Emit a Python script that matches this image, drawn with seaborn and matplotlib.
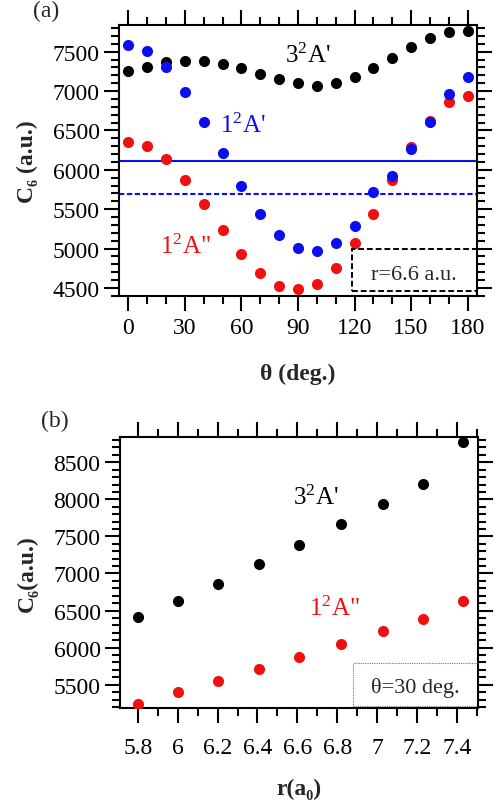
import matplotlib
matplotlib.use("Agg")
import matplotlib.pyplot as plt
from matplotlib.ticker import MultipleLocator, FormatStrFormatter
from matplotlib.patches import Rectangle
import pandas as pd
import seaborn as sns

# ---- (a) C6 versus angle at r = 6.6 a.u. ----
theta_deg = [0, 10, 20, 30, 40, 50, 60, 70, 80, 90,
             100, 110, 120, 130, 140, 150, 160, 170, 180]
c6_3A1 = [7251, 7310, 7373, 7378, 7378, 7344, 7289, 7217, 7153, 7099,
          7069, 7103, 7183, 7289, 7420, 7556, 7670, 7754, 7766]
c6_1A1 = [7589, 7505, 7302, 6985, 6612, 6211, 5795, 5444, 5174, 5009,
          4975, 5068, 5288, 5724, 5926, 6265, 6604, 6967, 7175]
c6_1A2 = [6350, 6307, 6138, 5876, 5567, 5237, 4937, 4688, 4530, 4489,
          4552, 4759, 5068, 5444, 5868, 6287, 6624, 6858, 6942]
level_solid = 6117
level_dashed = 5694

# ---- (b) C6 versus r at theta = 30 deg ----
r_a0 = [5.80, 6.00, 6.20, 6.41, 6.61, 6.82, 7.03, 7.23, 7.43]
c6_r_3A1 = [6412, 6635, 6864, 7124, 7385, 7664, 7934, 8208, 8779]
c6_r_1A2 = [5240, 5397, 5550, 5712, 5878, 6045, 6220, 6382, 6632]

theta_ticks = [0, 30, 60, 90, 120, 150, 180]
r_ticks = [5.8, 6.0, 6.2, 6.4, 6.6, 6.8, 7.0, 7.2, 7.4]

sns.set_style("ticks", {"axes.edgecolor": "black",
                        "xtick.color": "black", "ytick.color": "black"})
plt.rcParams["font.family"] = ["Liberation Serif", "DejaVu Serif"]
plt.rcParams["axes.linewidth"] = 1.5
plt.rcParams["mathtext.default"] = "regular"

BLACK, BLUE, RED = "#000000", "#0a0ff0", "#f01010"
MS = 64
TICK_FS = 17
LAB_FS = 17

LBL_3A1 = "3$^{2}$A'"
LBL_1A1 = "1$^{2}$A'"
LBL_1A2 = '1$^{2}$A"'

df_a = pd.DataFrame({"theta": theta_deg, "s3A1": c6_3A1,
                     "s1A1": c6_1A1, "s1A2": c6_1A2})
df_b = pd.DataFrame({"r": r_a0, "s3A1": c6_r_3A1, "s1A2": c6_r_1A2})

fig = plt.figure(figsize=(4.99, 8.04), dpi=100)
ax1 = fig.add_axes([0.2385, 0.6306, 0.7174, 0.3371])
ax2 = fig.add_axes([0.2405, 0.1182, 0.7174, 0.3374])


def style_axes(ax, xpad):
    ax.tick_params(which="both", direction="out", top=True, right=True,
                   labeltop=False, labelright=False, width=1.5,
                   labelsize=TICK_FS)
    ax.tick_params(which="major", length=11)
    ax.tick_params(which="minor", length=6)
    ax.tick_params(axis="x", which="major", pad=xpad)
    ax.tick_params(axis="y", which="major", pad=3)
    for sp in ax.spines.values():
        sp.set_visible(True)
        sp.set_linewidth(1.5)
        sp.set_color("black")


# panel (a)
ax1.axhline(level_solid, color=BLUE, lw=1.5, zorder=1)
ax1.axhline(level_dashed, color=BLUE, lw=1.5, ls=(0, (2.5, 1.3)), zorder=1)
sns.scatterplot(data=df_a, x="theta", y="s3A1", color=BLACK, s=MS,
                linewidth=0, ax=ax1, legend=False, zorder=3)
sns.scatterplot(data=df_a, x="theta", y="s1A2", color=RED, s=MS,
                linewidth=0, ax=ax1, legend=False, zorder=3)
sns.scatterplot(data=df_a, x="theta", y="s1A1", color=BLUE, s=MS,
                linewidth=0, ax=ax1, legend=False, zorder=4)
ax1.set_xlim(-5, 185)
ax1.set_ylim(4398, 7840)
ax1.set_xticks(theta_ticks)
ax1.xaxis.set_minor_locator(MultipleLocator(10))
ax1.yaxis.set_major_locator(MultipleLocator(500))
ax1.yaxis.set_minor_locator(MultipleLocator(100))
style_axes(ax1, xpad=4)
ax1.set_xlabel("θ (deg.)", fontsize=LAB_FS, fontweight="bold")
ax1.set_ylabel("C₆ (a.u.)", fontsize=LAB_FS, fontweight="bold")
ax1.xaxis.set_label_coords(0.5, -0.284)
ax1.xaxis.label.set_verticalalignment("center")
ax1.yaxis.set_label_coords(-0.257, 0.5)
ax1.yaxis.label.set_verticalalignment("center")

ax1.text(83, 7369, LBL_3A1, color=BLACK, fontsize=18, va="baseline")
ax1.text(48.7, 6477, LBL_1A1, color=BLUE, fontsize=18, va="baseline")
ax1.text(16.9, 4942, LBL_1A2, color=RED, fontsize=18, va="baseline")
ax1.add_patch(Rectangle((0.65, 0.017), 0.35, 0.156, transform=ax1.transAxes,
                        fill=False, ec="black", lw=1.4, ls=(0, (3, 1.5)),
                        zorder=5))
ax1.text(0.824, 0.063, "r=6.6 a.u.", transform=ax1.transAxes, fontsize=16,
         ha="center", va="baseline")

# panel (b)
sns.scatterplot(data=df_b, x="r", y="s3A1", color=BLACK, s=MS,
                linewidth=0, ax=ax2, legend=False, zorder=3)
sns.scatterplot(data=df_b, x="r", y="s1A2", color=RED, s=MS,
                linewidth=0, ax=ax2, legend=False, zorder=3)
ax2.set_xlim(5.711, 7.505)
ax2.set_ylim(5186, 8845)
ax2.set_xticks(r_ticks)
ax2.xaxis.set_major_formatter(FormatStrFormatter("%g"))
ax2.xaxis.set_minor_locator(MultipleLocator(0.1))
ax2.yaxis.set_major_locator(MultipleLocator(500))
ax2.yaxis.set_minor_locator(MultipleLocator(100))
style_axes(ax2, xpad=10)
ax2.set_xlabel("r(a₀)", fontsize=LAB_FS, fontweight="bold")
ax2.set_ylabel("C₆(a.u.)", fontsize=LAB_FS, fontweight="bold")
ax2.xaxis.set_label_coords(0.5, -0.295)
ax2.xaxis.label.set_verticalalignment("center")
ax2.yaxis.set_label_coords(-0.26, 0.5)
ax2.yaxis.label.set_verticalalignment("center")

ax2.text(6.58, 7934, LBL_3A1, color=BLACK, fontsize=18, va="baseline")
ax2.text(6.66, 6437, LBL_1A2, color=RED, fontsize=18, va="baseline")
ax2.add_patch(Rectangle((0.652, 0.0085), 0.348, 0.157,
                        transform=ax2.transAxes, fill=False, ec="0.45",
                        lw=0.8, ls=(0, (1, 1)), zorder=5))
ax2.text(0.826, 0.058, "θ=30 deg.", transform=ax2.transAxes, fontsize=16,
         ha="center", va="baseline")

fig.text(0.092, 0.986, "(a)", fontsize=17, ha="center", va="center")
fig.text(0.110, 0.4764, "(b)", fontsize=17, ha="center", va="center")

fig.savefig("out.png", dpi=100)
